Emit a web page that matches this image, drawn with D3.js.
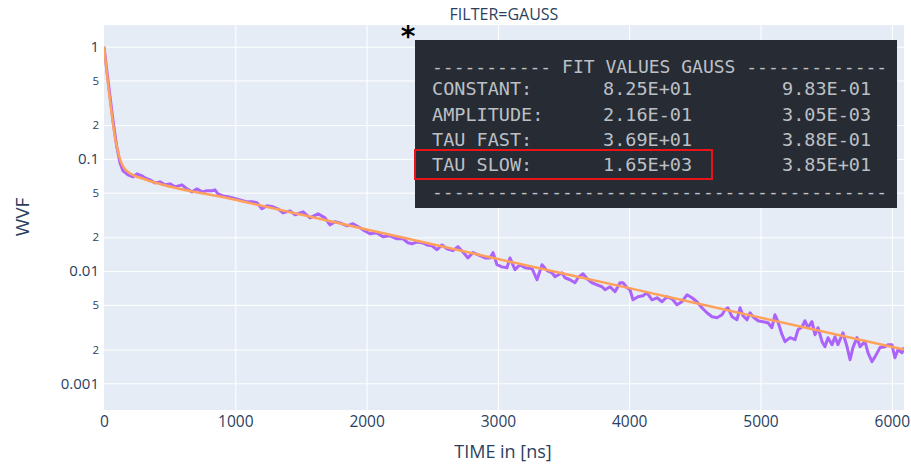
<!DOCTYPE html>
<html>
<head>
<meta charset="utf-8">
<script src="https://cdn.jsdelivr.net/npm/d3@7"></script>
<style>
  body { margin: 0; background: #fff; }
  svg { display: block; }
</style>
</head>
<body>
<svg id="chart"></svg>
<script>
// measured waveform (time in ns, WVF)
const dataTime = [0,21,46,71,97,122,145,183,221,251,
    289,312,350,388,426,465,503,541,594,632,
    670,708,746,784,822,845,868,906,944,982,
    1036,1089,1135,1165,1203,1241,1287,1325,1363,1417,
    1455,1516,1569,1630,1683,1721,1759,1797,1851,1896,
    1950,1973,2026,2079,2125,2178,2231,2277,2315,2346,
    2384,2422,2460,2498,2536,2574,2612,2658,2696,2734,
    2772,2810,2864,2902,2940,2963,2993,3031,3069,3092,
    3130,3168,3206,3260,3298,3336,3374,3412,3435,3488,
    3511,3549,3587,3610,3648,3679,3717,3755,3793,3816,
    3854,3892,3930,3953,3983,4006,4029,4067,4105,4135,
    4174,4212,4250,4288,4326,4364,4402,4440,4478,4516,
    4554,4592,4631,4669,4707,4730,4752,4783,4821,4844,
    4867,4897,4920,4943,4981,5019,5057,5087,5110,5133,
    5164,5187,5225,5263,5286,5317,5339,5362,5392,5415,
    5438,5469,5491,5514,5545,5567,5590,5628,5659,5682,
    5704,5735,5758,5796,5819,5849,5872,5910,5948,5971,
    6001,6024,6047,6078,6093]
const dataWvf = [1.0,0.620,0.359,0.209,0.129,0.0921,0.0781,0.0720,0.0691,0.0735,
    0.0706,0.0677,0.0650,0.0611,0.0624,0.0587,0.0599,0.0563,0.0587,0.0540,
    0.0508,0.0540,0.0508,0.0519,0.0519,0.0530,0.0488,0.0468,0.0459,0.0449,
    0.0431,0.0414,0.0414,0.0406,0.0359,0.0382,0.0374,0.0359,0.0330,0.0344,
    0.0317,0.0337,0.0298,0.0324,0.0298,0.0258,0.0275,0.0269,0.0253,0.0264,
    0.0243,0.0233,0.0215,0.0219,0.0202,0.0206,0.0194,0.0194,0.0179,0.0175,
    0.0182,0.0179,0.0171,0.0168,0.0155,0.0171,0.0158,0.0152,0.0165,0.0148,
    0.0131,0.0146,0.0137,0.0131,0.0131,0.0146,0.0114,0.0109,0.0107,0.0131,
    0.0103,0.0114,0.0107,0.0105,0.00837,0.0114,0.0101,0.00966,0.00890,0.00966,
    0.00872,0.00837,0.00787,0.00872,0.00946,0.00854,0.00787,0.00755,0.00725,0.00682,
    0.00725,0.00654,0.00787,0.00787,0.00710,0.00682,0.00555,0.00590,0.00603,0.00641,
    0.00555,0.00578,0.00533,0.00590,0.00567,0.00501,0.00533,0.00615,0.00578,0.00533,
    0.00471,0.00425,0.00392,0.00384,0.00408,0.00452,0.00471,0.00392,0.00368,0.00471,
    0.00400,0.00368,0.00425,0.00392,0.00361,0.00354,0.00346,0.00313,0.00408,0.00354,
    0.00271,0.00235,0.00255,0.00245,0.00300,0.00319,0.00361,0.00313,0.00354,0.00271,
    0.00313,0.00235,0.00212,0.00255,0.00221,0.00260,0.00221,0.00282,0.00212,0.00162,
    0.00208,0.00255,0.00212,0.00235,0.00187,0.00156,0.00172,0.00208,0.00212,0.00221,
    0.00221,0.00169,0.00199,0.00187,0.00208]

// fitted curve
const fitTime = [0,10,20,30,40,60,80,100,125,150,200,300,1000,2000,3000,4000,5000,6093]
const fitWvf = [1.0,0.78,0.61,0.48,0.38,0.245,0.165,0.125,0.097,0.084,0.0740,0.0665,0.0432,0.0235,0.0128,0.00705,0.00385,0.00200]

const xTicks = [0, 1000, 2000, 3000, 4000, 5000, 6000]
const yMajorTicks = [1, 0.1, 0.01, 0.001]
const yMinorTicks = [0.5, 0.2, 0.05, 0.02, 0.005, 0.002]

const fitHeader = "----------- FIT VALUES GAUSS -------------"
const fitNames = ["CONSTANT:", "AMPLITUDE:", "TAU FAST:", "TAU SLOW:"]
const fitValues = ["8.25E+01", "2.16E-01", "3.69E+01", "1.65E+03"]
const fitErrors = ["9.83E-01", "3.05E-03", "3.88E-01", "3.85E+01"]

const config = {
    width: 911, height: 465,
    plot: { left: 104, right: 904, top: 25, bottom: 410 },
    colors: { plotBg: "#e5ecf6", grid: "#ffffff", text: "#2a3f5f", data: "#ab63fa", fit: "#FFA15A" },
    font: "'Open Sans', verdana, arial, sans-serif"
}

const svg = d3.select("#chart").attr("width", config.width).attr("height", config.height)
const p = config.plot

const x = d3.scaleLinear().domain([0, 6093]).range([p.left, p.right])
const y = d3.scaleLog().domain([0.000578, 1.56]).range([p.bottom, p.top])

svg.append("rect")
    .attr("x", p.left).attr("y", p.top)
    .attr("width", p.right - p.left).attr("height", p.bottom - p.top)
    .attr("fill", config.colors.plotBg)

// grid lines
const xGrid = d3.axisBottom(x).tickValues(xTicks.slice(1)).tickSize(-(p.bottom - p.top)).tickFormat("")
svg.append("g").attr("transform", `translate(0,${p.bottom})`).call(xGrid)
    .call(g => g.select(".domain").remove())
    .call(g => g.selectAll("line").attr("stroke", config.colors.grid).attr("stroke-width", 1))

const yGrid = d3.axisLeft(y).tickValues(yMajorTicks.concat(yMinorTicks)).tickSize(-(p.right - p.left)).tickFormat("")
svg.append("g").attr("transform", `translate(${p.left},0)`).call(yGrid)
    .call(g => g.select(".domain").remove())
    .call(g => g.selectAll("line").attr("stroke", config.colors.grid).attr("stroke-width", 1))

// tick labels
const xAxis = d3.axisBottom(x).tickValues(xTicks).tickSize(0).tickPadding(0).tickFormat(d3.format("d"))
svg.append("g").attr("transform", `translate(0,${p.bottom + 6})`).call(xAxis)
    .call(g => g.select(".domain").remove())
    .call(g => g.selectAll("text").attr("fill", config.colors.text)
        .style("font-family", config.font).style("font-size", "15.5px"))

const yAxisMajor = d3.axisLeft(y).tickValues(yMajorTicks).tickSize(0).tickPadding(5).tickFormat(d => String(d))
svg.append("g").attr("transform", `translate(${p.left},0)`).call(yAxisMajor)
    .call(g => g.select(".domain").remove())
    .call(g => g.selectAll("text").attr("fill", config.colors.text)
        .style("font-family", config.font).style("font-size", "15px"))

const yAxisMinor = d3.axisLeft(y).tickValues(yMinorTicks).tickSize(0).tickPadding(5)
    .tickFormat(d => String(Math.round(d / Math.pow(10, Math.floor(Math.log10(d) + 1e-9)))))
svg.append("g").attr("transform", `translate(${p.left},0)`).call(yAxisMinor)
    .call(g => g.select(".domain").remove())
    .call(g => g.selectAll("text").attr("fill", config.colors.text)
        .style("font-family", config.font).style("font-size", "11.5px"))

// lines
svg.append("clipPath").attr("id", "plotClip").append("rect")
    .attr("x", p.left).attr("y", p.top).attr("width", p.right - p.left).attr("height", p.bottom - p.top)

const dataPoints = dataTime.map((t, i) => [t, dataWvf[i]])
const fitPoints = fitTime.map((t, i) => [t, fitWvf[i]])

svg.append("path").datum(dataPoints)
    .attr("clip-path", "url(#plotClip)")
    .attr("d", d3.line().x(d => x(d[0])).y(d => y(d[1])))
    .attr("fill", "none").attr("stroke", config.colors.data)
    .attr("stroke-width", 3).attr("stroke-linejoin", "round")

svg.append("path").datum(fitPoints)
    .attr("clip-path", "url(#plotClip)")
    .attr("d", d3.line().x(d => x(d[0])).y(d => y(d[1])).curve(d3.curveMonotoneX))
    .attr("fill", "none").attr("stroke", config.colors.fit)
    .attr("stroke-width", 2.5).attr("stroke-linejoin", "round")

// axis titles
svg.append("text")
    .text("TIME in [ns]")
    .attr("x", 503).attr("y", 458)
    .attr("text-anchor", "middle")
    .attr("fill", config.colors.text)
    .style("font-family", config.font).style("font-size", "18px")

svg.append("text")
    .text("WVF")
    .attr("transform", "translate(29,217) rotate(-90)")
    .attr("text-anchor", "middle")
    .attr("fill", config.colors.text)
    .style("font-family", config.font).style("font-size", "19px")

svg.append("text")
    .text("FILTER=GAUSS")
    .attr("x", 504).attr("y", 19.5)
    .attr("text-anchor", "middle")
    .attr("fill", config.colors.text)
    .style("font-family", config.font).style("font-size", "16px")

// fit result box
const box = svg.append("g")
box.append("rect")
    .attr("x", 415).attr("y", 40).attr("width", 482).attr("height", 168)
    .attr("fill", "#272b33")

const mono = "'DejaVu Sans Mono', 'Liberation Mono', monospace"
const boxText = "#bcc0c6"
box.append("text").text(fitHeader)
    .attr("x", 432).attr("y", 72.5)
    .attr("fill", boxText).style("font-family", mono).style("font-size", "18px")
    .style("white-space", "pre").attr("xml:space", "preserve")

const rowBase = [95, 120.5, 145.5, 171]
fitNames.forEach((name, i) => {
    box.append("text").text(name).attr("x", 432).attr("y", rowBase[i])
        .attr("fill", boxText).style("font-family", mono).style("font-size", "18.5px")
    box.append("text").text(fitValues[i]).attr("x", 603).attr("y", rowBase[i])
        .attr("fill", boxText).style("font-family", mono).style("font-size", "18.5px")
    box.append("text").text(fitErrors[i]).attr("x", 782).attr("y", rowBase[i])
        .attr("fill", boxText).style("font-family", mono).style("font-size", "18.5px")
})

box.append("text").text("-".repeat(42))
    .attr("x", 432).attr("y", 198)
    .attr("fill", boxText).style("font-family", mono).style("font-size", "18px")

box.append("rect")
    .attr("x", 415).attr("y", 150).attr("width", 297).attr("height", 29)
    .attr("fill", "none").attr("stroke", "#e8141a").attr("stroke-width", 2)

svg.append("text")
    .text("*")
    .attr("x", 408).attr("y", 46)
    .attr("text-anchor", "middle")
    .attr("fill", "#000")
    .style("font-family", "'DejaVu Sans', sans-serif").style("font-weight", "bold").style("font-size", "28px")
</script>
</body>
</html>
